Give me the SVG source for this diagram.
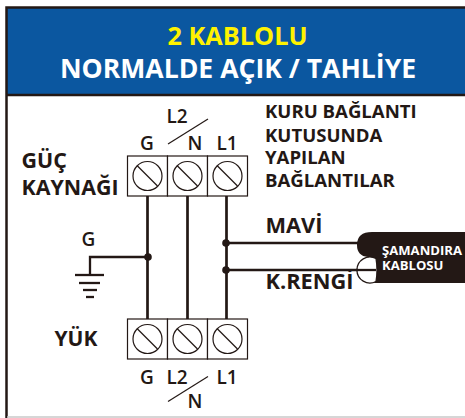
<svg xmlns="http://www.w3.org/2000/svg" width="465" height="418" viewBox="0 0 465 418">
<style>
text{font-family:"Open Sans","Noto Sans","Liberation Sans",sans-serif;fill:#231815}
.b{font-weight:700}
.s{font-weight:600;font-size:19px;text-anchor:middle}
.l{font-weight:700;font-size:18.600px}
.w{stroke:#231815;stroke-width:2.700;fill:none}
.x{stroke:#231815;stroke-width:2.300;fill:none}
.t{stroke:#231815;stroke-width:1.200;fill:#fff}
.h{stroke:#231815;stroke-width:1.200;fill:none}
</style>
<defs>
<g id="term">
<rect class="t" x="0" y="0" width="40" height="40"/>
<circle class="t" cx="20" cy="20" r="14.500"/>
<line class="h" x1="9.500" y1="9.500" x2="30" y2="30"/>
</g>
</defs>
<rect width="465" height="418" fill="#fff"/>
<g id="frame">
<rect x="7" y="8" width="458" height="87" fill="#0b57a0"/>
<path d="M465 7.500H6.500V418" fill="none" stroke="#231815" stroke-width="2.500"/>
<line x1="6" y1="95" x2="465" y2="95" stroke="#231815" stroke-width="2.500"/>
<line x1="7" y1="417" x2="465" y2="417" stroke="#c8c8c8" stroke-width="1.500"/>
</g>
<g id="title" class="b" text-anchor="middle">
<text x="237.500" y="45" font-size="25.300" style="fill:#fff200">2 KABLOLU</text>
<text x="238" y="78" font-size="26.600" style="fill:#fff">NORMALDE AÇIK / TAHLİYE</text>
</g>
<g id="connectors">
<path class="w" d="M147.500 196V319M187.500 196V319M226.500 196V319"/>
<path d="M148 257H90V275" class="x"/>
<path d="M226 243H358M226 270H376" class="x"/>
<circle cx="148" cy="257" r="3.800" fill="#231815"/>
<circle cx="226" cy="243" r="3.800" fill="#231815"/>
<circle cx="226" cy="270" r="3.800" fill="#231815"/>
</g>
<g id="ground" stroke="#231815" stroke-width="2.300">
<line x1="75" y1="275" x2="104" y2="275"/>
<line x1="79" y1="283" x2="100" y2="283"/>
<line x1="83" y1="290" x2="97" y2="290"/>
<line x1="86" y1="297" x2="94" y2="297"/>
</g>
<g id="power-terminal">
<use href="#term" x="127.500" y="156"/>
<use href="#term" x="167.500" y="156"/>
<use href="#term" x="207.500" y="156"/>
<line class="h" x1="168" y1="144" x2="208" y2="119"/>
<text class="s" x="147" y="150">G</text>
<text class="s" x="195" y="150">N</text>
<text class="s" x="227" y="150">L1</text>
<text class="s" x="177" y="122.500">L2</text>
</g>
<g id="load-terminal">
<use href="#term" x="127.500" y="319"/>
<use href="#term" x="167.500" y="319"/>
<use href="#term" x="207.500" y="319"/>
<line class="h" x1="168" y1="401.500" x2="208" y2="376.500"/>
<text class="s" x="147" y="384">G</text>
<text class="s" x="177" y="384">L2</text>
<text class="s" x="227" y="384">L1</text>
<text class="s" x="195" y="408">N</text>
</g>
<g id="cable">
<path d="M465 232H372Q357 232 357 245Q357 256 368 257L370 283H465Z" fill="#231815"/>
<path d="M376 258.500A13 13 0 1 0 376 281.500Q378 270 376 258.500Z" fill="#fff" stroke="#231815" stroke-width="1.300"/>
<line x1="356" y1="270" x2="376" y2="270" stroke="#231815" stroke-width="2.300"/>
<text font-size="13.100" class="b" style="fill:#fff"><tspan x="382" y="255">ŞAMANDIRA</tspan><tspan x="382" y="270">KABLOSU</tspan></text>
</g>
<g id="labels" class="b">
<text class="l" x="265" y="118">KURU BAĞLANTI</text>
<text class="l" x="265" y="141.500">KUTUSUNDA</text>
<text class="l" x="265" y="164">YAPILAN</text>
<text class="l" x="265" y="186.500">BAĞLANTILAR</text>
<text x="265.500" y="233" font-size="21.800">MAVİ</text>
<text x="265.500" y="289" font-size="21.800">K.RENGİ</text>
<text x="21.500" y="168" font-size="21.400">GÜÇ</text>
<text x="21.500" y="195" font-size="21.400">KAYNAĞI</text>
<text x="54.500" y="346" font-size="21">YÜK</text>
<text x="88.500" y="245.500" font-size="19" font-weight="600" text-anchor="middle">G</text>
</g>
</svg>
